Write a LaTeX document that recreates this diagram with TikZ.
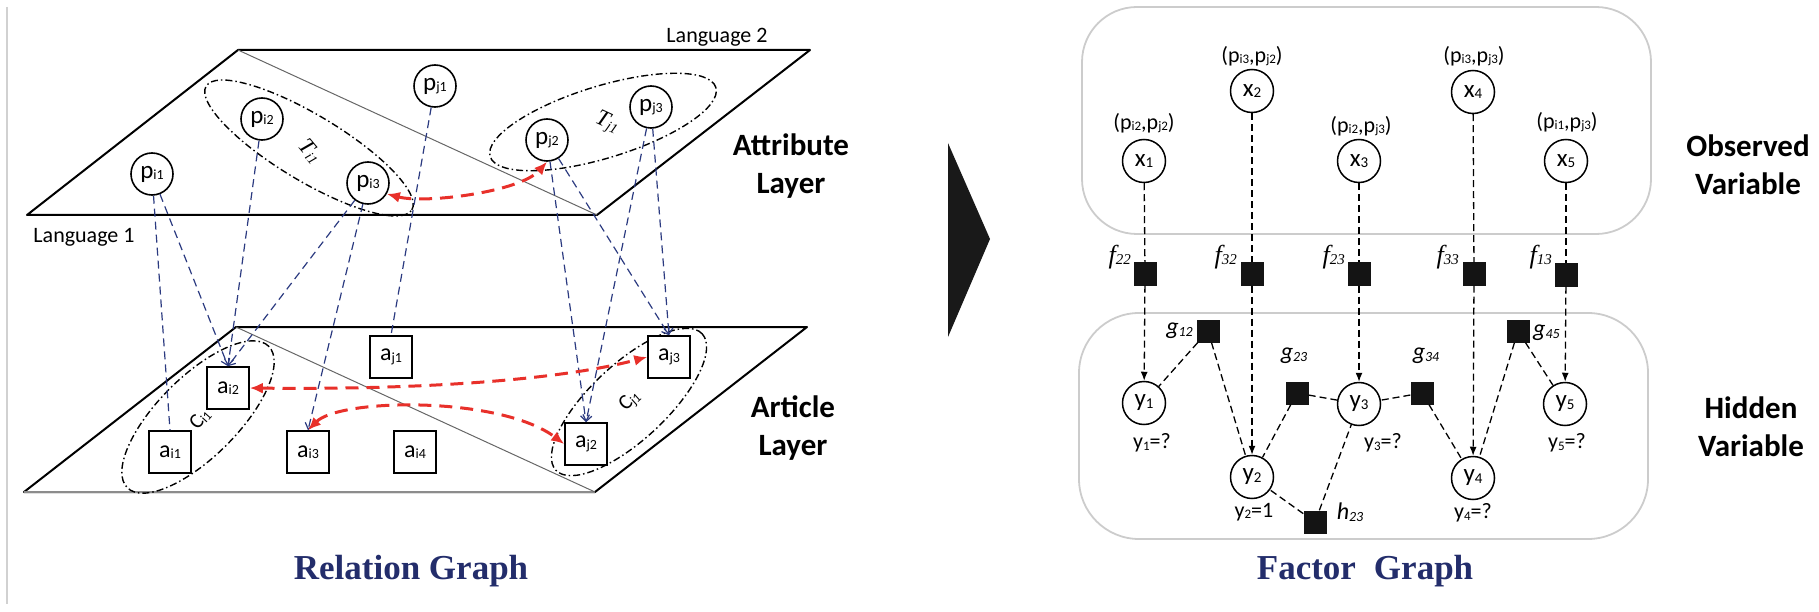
\documentclass[tikz,border=0pt]{standalone}
\usepackage{fontspec}
\setmainfont{Carlito}
\newfontfamily\tnr{Liberation Serif}
\usetikzlibrary{arrows.meta}
\definecolor{navy}{HTML}{2B3A80}
\definecolor{redarr}{HTML}{E8302A}
\definecolor{titleblue}{HTML}{232D6B}
\newcommand\sbx[2][13]{\raisebox{-1.5pt}{\fontsize{#1}{#1}\selectfont #2}}
\begin{document}
\begin{tikzpicture}[x=1pt,y=1pt,
 plane/.style={line width=2pt, line join=round},
 diag/.style={line width=1pt, black!60},
 attr/.style={circle, draw, line width=1.6pt, fill=white, minimum size=42pt, inner sep=0pt, font=\fontsize{25}{25}\selectfont},
 art/.style={rectangle, draw, line width=1.6pt, fill=white, minimum size=42pt, inner sep=0pt, font=\fontsize{24}{24}\selectfont},
 grp/.style={line width=1.4pt, dash pattern=on 7pt off 3pt on 1.5pt off 3pt},
 link/.style={navy, line width=1.2pt, dash pattern=on 8pt off 5pt},
 linkarr/.style={link, -{Straight Barb[length=6pt,width=9pt]}},
 redlink/.style={redarr, line width=3pt, dash pattern=on 13pt off 8pt, {Latex[length=13pt,width=11pt]}-{Latex[length=13pt,width=11pt]}},
 grplabel/.style={inner sep=0pt, font=\tnr\itshape\fontsize{23}{23}\selectfont},
 var/.style={circle, draw, line width=1.5pt, fill=white, minimum size=43pt, inner sep=0pt, font=\fontsize{25}{25}\selectfont},
 fac/.style={rectangle, fill=black!92, minimum size=23pt, inner sep=0pt},
 edge/.style={line width=1.3pt, dash pattern=on 7pt off 4pt},
 edgearr/.style={edge, -{Latex[length=9pt,width=7pt]}},
 layerbox/.style={draw=black!20, line width=1.8pt, rounded corners=55pt},
 side/.style={font=\fontsize{31}{38}\selectfont\bfseries, align=center},
 small/.style={inner sep=1pt, font=\fontsize{22}{22}\selectfont},
 clab/.style={inner sep=0pt, font=\fontsize{21}{21}\selectfont},
 flab/.style={inner sep=1pt, font=\tnr\itshape\fontsize{26}{26}\selectfont},
 glab/.style={inner sep=1pt, font=\itshape\fontsize{24}{24}\selectfont},
 title/.style={font=\tnr\bfseries\fontsize{35}{35}\selectfont, text=titleblue}
]
\useasboundingbox (0,0) rectangle (1819,-612);
% left border line
\draw[black!18, line width=1.5pt] (7,-7) -- (7,-604);

% ---------- planes ----------
\draw[plane] (27,-215) -- (238,-50) -- (810,-50) -- (597,-215) -- cycle;
\draw[diag] (238,-50) -- (597,-215);
\draw[plane] (595,-492) -- (24,-492) -- (236,-327) -- (807,-327) -- cycle;
\draw[black!45, line width=1.8pt] (595,-492) -- (24,-492);
\draw[diag] (236,-327) -- (595,-492);

% ---------- groups ----------
\draw[grp, rotate around={-31:(309,-148)}] (309,-148) ellipse [x radius=120, y radius=33];
\draw[grp, rotate around={17:(603,-122)}] (603,-122) ellipse [x radius=118, y radius=36];
\draw[grp, rotate around={45:(198,-417)}] (198,-417) ellipse [x radius=100, y radius=40];
\draw[grp, rotate around={43:(629,-402)}] (629,-402) ellipse [x radius=100, y radius=38];

\node[grplabel, rotate=-50] (ti1) at (310,-151) {T\sbx[14]{i1}};
\node[grplabel, rotate=-25] (tj1) at (607,-123) {T\sbx[14]{j1}};
\node[clab, rotate=48] (ci1) at (200,-419) {C\sbx[13]{i1}};
\node[clab, rotate=42] (cj1) at (630,-401) {C\sbx[13]{j1}};

% ---------- attribute nodes ----------
\node[attr] (pi1) at (152,-174) {p\sbx[14]{i1}};
\node[attr] (pi2) at (262,-119) {p\sbx[14]{i2}};
\node[attr] (pi3) at (368,-183) {p\sbx[14]{i3}};
\node[attr] (pj1) at (435,-86) {p\sbx[14]{j1}};
\node[attr] (pj2) at (547,-140) {p\sbx[14]{j2}};
\node[attr] (pj3) at (651,-107) {p\sbx[14]{j3}};

% ---------- article nodes ----------
\node[art] (ai1) at (170,-452) {a\sbx[14]{i1}};
\node[art] (ai2) at (228,-388) {a\sbx[14]{i2}};
\node[art] (ai3) at (308,-452) {a\sbx[14]{i3}};
\node[art] (ai4) at (415,-452) {a\sbx[14]{i4}};
\node[art] (aj1) at (391,-357) {a\sbx[14]{j1}};
\node[art] (aj2) at (586,-444) {a\sbx[14]{j2}};
\node[art] (aj3) at (669,-357) {a\sbx[14]{j3}};

% ---------- cross-layer links ----------
\draw[link] (pi1) -- (ai1.north);
\draw[linkarr] (pi1) -- (ai2.north);
\draw[linkarr] (pi2) -- (ai2.north);
\draw[linkarr] (pi3) -- (ai2.north);
\draw[linkarr] (pi3) -- (ai3.north);
\draw[link] (pj1) -- (aj1.north);
\draw[linkarr] (pj2) -- (aj2.north);
\draw[linkarr] (pj2) -- (aj3.north);
\draw[linkarr] (pj3) -- (aj2.north);
\draw[linkarr] (pj3) -- (aj3.north);

% ---------- red relations ----------
\draw[redlink] (pi3.-30) .. controls (425,-204) and (520,-192) .. (pj2.south);
\draw[redlink] (ai2.east) .. controls (420,-390) and (560,-380) .. (aj3.west);
\draw[redlink] (ai3.north) .. controls (340,-398) and (500,-396) .. (aj2.west);

% ---------- labels ----------
\node[small] (lang1) at (84,-237) {Language 1};
\node[small] (lang2) at (717,-37) {Language 2};
\node[side] (attrl) at (791,-166) {Attribute\\Layer};
\node[side] (artl) at (793,-428) {Article\\Layer};
\node[title] (relg) at (411,-571) {Relation Graph};

% ---------- middle arrow ----------
\fill[black!90] (948,-143) -- (990,-239) -- (948,-337) -- cycle;

% ---------- factor graph ----------
\draw[layerbox] (1082,-7) rectangle (1651,-234);
\draw[layerbox, rounded corners=60pt] (1079,-313) rectangle (1648,-539);

\node[var] (x1) at (1144,-161) {x\sbx[15]{1}};
\node[var] (x2) at (1252,-91) {x\sbx[15]{2}};
\node[var] (x3) at (1359,-161) {x\sbx[15]{3}};
\node[var] (x4) at (1473,-92) {x\sbx[15]{4}};
\node[var] (x5) at (1566,-161) {x\sbx[15]{5}};

\node[small] (lx1) at (1144,-123) {(p\sbx{i2},p\sbx{j2})};
\node[small] (lx2) at (1252,-56) {(p\sbx{i3},p\sbx{j2})};
\node[small] (lx3) at (1361,-126) {(p\sbx{i2},p\sbx{j3})};
\node[small] (lx4) at (1474,-56) {(p\sbx{i3},p\sbx{j3})};
\node[small] (lx5) at (1567,-122) {(p\sbx{i1},p\sbx{j3})};

\node[fac] (f22) at (1145,-274) {};
\node[fac] (f32) at (1252,-274) {};
\node[fac] (f23) at (1359,-274) {};
\node[fac] (f33) at (1474,-274) {};
\node[fac] (f13) at (1566,-275) {};

\node[flab, anchor=east] (lf22) at (1132,-257) {f\sbx[15]{22}};
\node[flab, anchor=east] (lf32) at (1238,-257) {f\sbx[15]{32}};
\node[flab, anchor=east] (lf23) at (1346,-257) {f\sbx[15]{23}};
\node[flab, anchor=east] (lf33) at (1460,-257) {f\sbx[15]{33}};
\node[flab, anchor=east] (lf13) at (1553,-257) {f\sbx[15]{13}};

\node[var] (y1) at (1144,-403) {y\sbx[15]{1}};
\node[var] (y2) at (1252,-477) {y\sbx[15]{2}};
\node[var] (y3) at (1359,-404) {y\sbx[15]{3}};
\node[var] (y4) at (1473,-478) {y\sbx[15]{4}};
\node[var] (y5) at (1565,-404) {y\sbx[15]{5}};

\node[small] (ly1) at (1152,-443) {y\sbx{1}=?};
\node[small] (ly2) at (1254,-512) {y\sbx{2}=1};
\node[small] (ly3) at (1383,-443) {y\sbx{3}=?};
\node[small] (ly4) at (1473,-513) {y\sbx{4}=?};
\node[small] (ly5) at (1567,-443) {y\sbx{5}=?};

\node[fac] (g12) at (1208,-331) {};
\node[fac] (g23) at (1297,-393) {};
\node[fac] (g34) at (1422,-393) {};
\node[fac] (g45) at (1518,-331) {};
\node[fac] (h23) at (1315,-522) {};

\node[glab, anchor=east] (lg12) at (1194,-331) {g\sbx[14]{12}};
\node[glab] (lg23) at (1294,-356) {g\sbx[14]{23}};
\node[glab] (lg34) at (1426,-356) {g\sbx[14]{34}};
\node[glab, anchor=west] (lg45) at (1532,-333) {g\sbx[14]{45}};
\node[glab] (lh23) at (1350,-512) {h\sbx[14]{23}};

\draw[edge] (x1) -- (f22); \draw[edgearr] (f22) -- (y1);
\draw[edge] (x2) -- (f32); \draw[edgearr] (f32) -- (y2);
\draw[edge] (x3) -- (f23); \draw[edgearr] (f23) -- (y3);
\draw[edge] (x4) -- (f33); \draw[edgearr] (f33) -- (y4);
\draw[edge] (x5) -- (f13); \draw[edgearr] (f13) -- (y5);

\draw[edge] (g12) -- (y1); \draw[edge] (g12) -- (y2);
\draw[edge] (g23) -- (y2); \draw[edge] (g23) -- (y3);
\draw[edge] (g34) -- (y3); \draw[edge] (g34) -- (y4);
\draw[edge] (g45) -- (y4); \draw[edge] (g45) -- (y5);
\draw[edge] (h23) -- (y2); \draw[edge] (h23) -- (y3);

\node[side] (obsl) at (1748,-165) {Observed\\Variable};
\node[side] (hidl) at (1751,-427) {Hidden\\Variable};
\node[title] (facg) at (1365,-571) {Factor\hspace{18pt}Graph};
\end{tikzpicture}
\end{document}
